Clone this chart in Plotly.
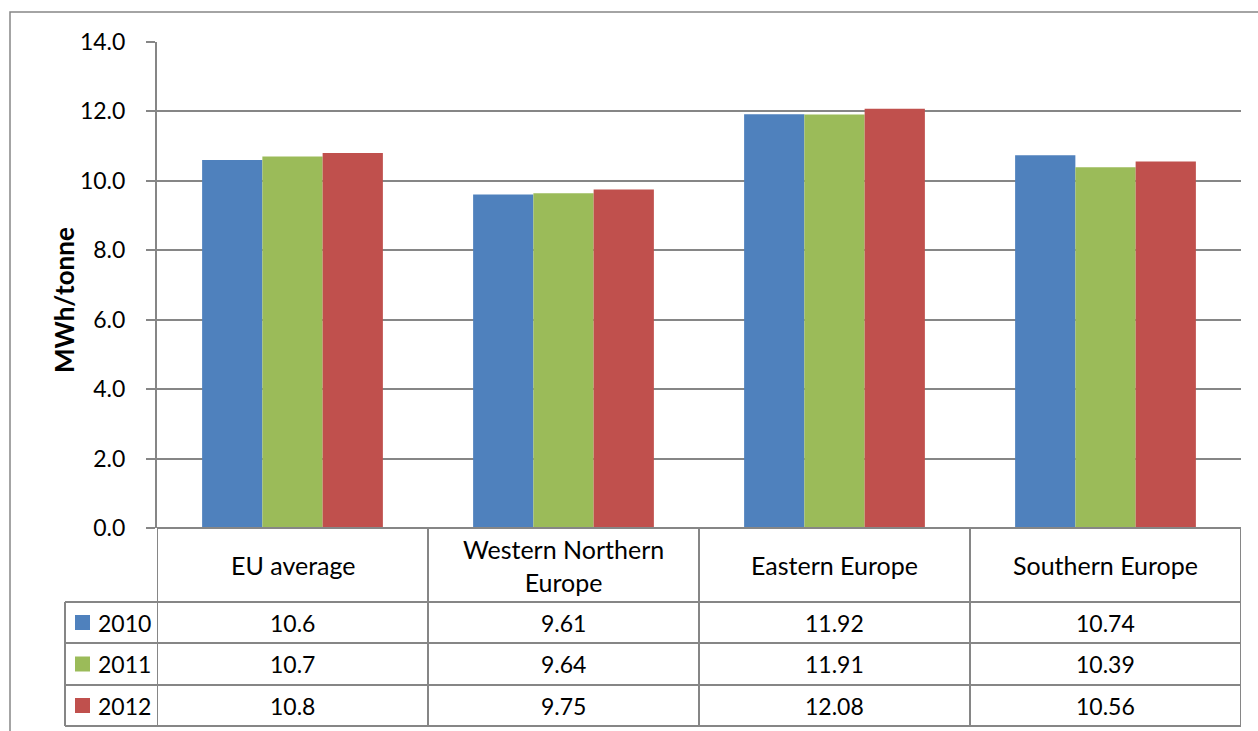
import plotly.graph_objects as go

# Energy intensity by region (MWh per tonne)
regions = ["EU average", "Western Northern<br>Europe", "Eastern Europe", "Southern Europe"]
years = ["2010", "2011", "2012"]
vals_2010 = [10.6, 9.61, 11.92, 10.74]
vals_2011 = [10.7, 9.64, 11.91, 10.39]
vals_2012 = [10.8, 9.75, 12.08, 10.56]
table_text = [
    ["10.6", "9.61", "11.92", "10.74"],
    ["10.7", "9.64", "11.91", "10.39"],
    ["10.8", "9.75", "12.08", "10.56"],
]
colors = ["#4F81BD", "#9BBB59", "#C0504D"]
y_ticks = [0, 2, 4, 6, 8, 10, 12, 14]

W, H = 1258, 731
L, R, T, B = 157, 1241, 42, 528
FONT = "Lato, Carlito, Calibri, sans-serif"
GRID = "#868686"


def px_x(p):
    return (p - L) / (R - L)


def px_y(p):
    return (B - p) / (B - T)


def label(x, y, text, size, xref="paper", xanchor="center", **kw):
    return dict(x=x, y=y, xref=xref, yref="paper", text=text, showarrow=False,
                xanchor=xanchor, yanchor="middle",
                font=dict(family=FONT, size=size, color="#000"), **kw)


series = [vals_2010, vals_2011, vals_2012]
cats = list(range(len(regions)))

fig = go.Figure()
for yr, vals, col in zip(years, series, colors):
    fig.add_trace(go.Bar(x=cats, y=vals, name=yr, marker=dict(color=col, line=dict(width=0)),
                         showlegend=False))

shapes = []
annotations = []

# outer chart border
shapes.append(dict(type="rect", xref="paper", yref="paper",
                   x0=px_x(10), x1=px_x(1275), y0=px_y(745), y1=px_y(12),
                   line=dict(color=GRID, width=1.5), fillcolor="rgba(0,0,0,0)", layer="below"))

# data table grid
row_tops = [528, 602, 643, 685, 726]
shapes.append(dict(type="line", xref="paper", yref="paper", x0=0, x1=1, y0=px_y(528), y1=px_y(528),
                   line=dict(color=GRID, width=2)))
for ry in row_tops[1:]:
    shapes.append(dict(type="line", xref="paper", yref="paper", x0=px_x(65), x1=1, y0=px_y(ry), y1=px_y(ry),
                       line=dict(color=GRID, width=2)))
for i in range(len(regions) + 1):
    shapes.append(dict(type="line", xref="x", yref="paper", x0=i - 0.5, x1=i - 0.5,
                       y0=px_y(528), y1=px_y(726), line=dict(color=GRID, width=2)))
shapes.append(dict(type="line", xref="paper", yref="paper", x0=px_x(65), x1=px_x(65),
                   y0=px_y(602), y1=px_y(726), line=dict(color=GRID, width=2)))

# header labels
for i, name in enumerate(regions):
    annotations.append(label(i, px_y(565), name, 25, xref="x"))

# data rows with legend keys
for r, (yr, col) in enumerate(zip(years, colors)):
    top, bot = row_tops[r + 1], row_tops[r + 2]
    mid = (top + bot) / 2
    shapes.append(dict(type="rect", xref="paper", yref="paper",
                       x0=px_x(75), x1=px_x(90), y0=px_y(mid + 7.5), y1=px_y(mid - 7.5),
                       fillcolor=col, line=dict(width=0)))
    annotations.append(label(px_x(96), px_y(mid), yr, 23, xanchor="left"))
    for i in cats:
        annotations.append(label(i, px_y(mid), table_text[r][i], 23, xref="x"))

# y-axis title
annotations.append(label(px_x(64), px_y(300), "<b>MWh/tonne</b>", 26, textangle=-90))

fig.update_layout(
    width=W, height=H,
    margin=dict(l=L, r=W - R, t=T, b=H - B, pad=0),
    paper_bgcolor="white", plot_bgcolor="white",
    barmode="group", bargap=0.333, bargroupgap=0,
    shapes=shapes, annotations=annotations,
    xaxis=dict(range=[-0.5, 3.5], showticklabels=False, ticks="", showgrid=False,
               zeroline=False, showline=False, fixedrange=True),
    yaxis=dict(range=[0, 14], tickvals=y_ticks, tickformat=".1f", showgrid=True,
               gridcolor=GRID, gridwidth=2, zeroline=False, showline=True, linecolor=GRID,
               linewidth=2, ticks="outside", ticklen=9, tickcolor=GRID, tickwidth=2,
               tickfont=dict(family=FONT, size=23, color="#000"), ticklabelstandoff=16,
               fixedrange=True),
)

fig.write_html("out.html")
